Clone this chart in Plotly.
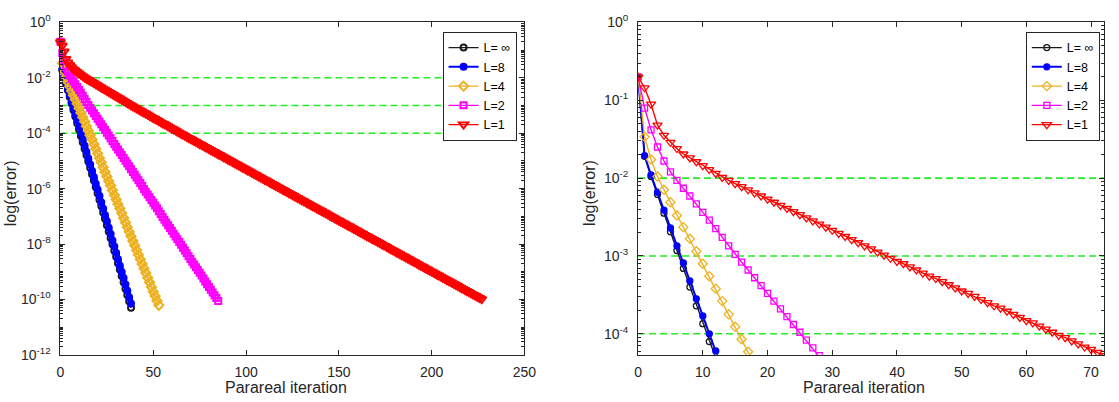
import plotly.graph_objects as go

# ---------------- data (log10 of the error) ----------------
series_names = ["L= \u221e", "L=8", "L=4", "L=2", "L=1"]

log_err_inf = [-0.70, -1.72, -1.98, -2.21, -2.45, -2.69, -2.93, -3.16, -3.40, -3.64,
               -3.87, -4.10, -4.33, -4.56, -4.79, -5.02, -5.25, -5.48, -5.71, -5.94,
               -6.17, -6.40, -6.63, -6.86, -7.09, -7.32, -7.55, -7.78, -8.01, -8.24,
               -8.46, -8.69, -8.92, -9.15, -9.38, -9.61, -9.84, -10.07, -10.30]

log_err_L8 = [-0.70, -1.71, -1.96, -2.18, -2.41, -2.64, -2.87, -3.09, -3.32, -3.55,
              -3.77, -4.00, -4.22, -4.45, -4.68, -4.91, -5.13, -5.36, -5.59, -5.82,
              -6.04, -6.27, -6.50, -6.73, -6.96, -7.18, -7.41, -7.64, -7.87, -8.09,
              -8.32, -8.55, -8.78, -9.01, -9.23, -9.46, -9.69, -9.92, -10.15]

log_err_L4 = [-0.70, -1.47, -1.76, -1.98, -2.15, -2.31, -2.48, -2.63, -2.78, -2.94,
              -3.10, -3.26, -3.42, -3.58, -3.75, -3.91, -4.07, -4.23, -4.40, -4.56,
              -4.73, -4.90, -5.06, -5.23, -5.40, -5.56, -5.73, -5.89, -6.06, -6.23,
              -6.39, -6.56, -6.72, -6.89, -7.06, -7.22, -7.39, -7.56, -7.72, -7.89,
              -8.05, -8.22, -8.39, -8.55, -8.72, -8.88, -9.05, -9.22, -9.38, -9.55,
              -9.72, -9.88, -10.05, -10.21]

log_err_L2 = [-0.70, -1.10, -1.38, -1.60, -1.78, -1.92, -2.03, -2.13, -2.23, -2.33,
              -2.44, -2.54, -2.65, -2.76, -2.87, -2.98, -3.08, -3.18, -3.28, -3.38,
              -3.48, -3.58, -3.68, -3.78, -3.88, -3.98, -4.08, -4.18, -4.28, -4.39,
              -4.49, -4.59, -4.69, -4.79, -4.89, -4.99, -5.09, -5.19, -5.30, -5.40,
              -5.50, -5.60, -5.70, -5.80, -5.90, -6.01, -6.11, -6.21, -6.31, -6.41,
              -6.51, -6.61, -6.71, -6.82, -6.92, -7.02, -7.12, -7.22, -7.32, -7.42,
              -7.52, -7.63, -7.73, -7.83, -7.93, -8.03, -8.13, -8.23, -8.33, -8.44,
              -8.54, -8.64, -8.74, -8.84, -8.94, -9.04, -9.14, -9.24, -9.35, -9.45,
              -9.55, -9.65, -9.75, -9.85, -9.95, -10.06]

log_err_L1 = [-0.70, -0.84, -1.05, -1.32, -1.45, -1.54, -1.62, -1.69, -1.74, -1.79,
              -1.84, -1.89, -1.94, -1.99, -2.03, -2.07, -2.11, -2.15, -2.19, -2.23,
              -2.27, -2.31, -2.35, -2.39, -2.43, -2.47, -2.51, -2.55, -2.59, -2.63,
              -2.67, -2.71, -2.75, -2.79, -2.83, -2.87, -2.91, -2.95, -2.99, -3.03,
              -3.07, -3.10, -3.14, -3.18, -3.22, -3.26, -3.29, -3.33, -3.37, -3.41,
              -3.45, -3.48, -3.52, -3.56, -3.60, -3.64, -3.67, -3.71, -3.75, -3.79,
              -3.83, -3.86, -3.90, -3.94, -3.98, -4.02, -4.05, -4.09, -4.13, -4.17,
              -4.20, -4.24, -4.28, -4.31, -4.35, -4.39, -4.42, -4.46, -4.50, -4.53,
              -4.57, -4.61, -4.65, -4.68, -4.72, -4.76, -4.79, -4.83, -4.87, -4.90,
              -4.94, -4.98, -5.01, -5.05, -5.09, -5.12, -5.16, -5.20, -5.24, -5.27,
              -5.31, -5.35, -5.38, -5.42, -5.46, -5.49, -5.53, -5.57, -5.60, -5.64,
              -5.68, -5.71, -5.75, -5.79, -5.83, -5.86, -5.90, -5.94, -5.97, -6.01,
              -6.05, -6.08, -6.12, -6.16, -6.19, -6.23, -6.27, -6.31, -6.34, -6.38,
              -6.42, -6.45, -6.49, -6.53, -6.56, -6.60, -6.64, -6.67, -6.71, -6.75,
              -6.78, -6.82, -6.86, -6.89, -6.93, -6.97, -7.01, -7.04, -7.08, -7.12,
              -7.15, -7.19, -7.23, -7.26, -7.30, -7.34, -7.37, -7.41, -7.45, -7.48,
              -7.52, -7.56, -7.60, -7.63, -7.67, -7.71, -7.74, -7.78, -7.82, -7.85,
              -7.89, -7.93, -7.96, -8.00, -8.04, -8.07, -8.11, -8.15, -8.19, -8.22,
              -8.26, -8.30, -8.33, -8.37, -8.41, -8.44, -8.48, -8.52, -8.55, -8.59,
              -8.63, -8.66, -8.70, -8.74, -8.78, -8.81, -8.85, -8.89, -8.92, -8.96,
              -9.00, -9.03, -9.07, -9.11, -9.14, -9.18, -9.22, -9.25, -9.29, -9.33,
              -9.36, -9.40, -9.44, -9.47, -9.51, -9.55, -9.59, -9.62, -9.66, -9.70,
              -9.73, -9.77, -9.81, -9.84, -9.88, -9.92, -9.95, -9.99]

threshold_levels = [1e-2, 1e-3, 1e-4]
threshold_x = [0, 225]

left_xticks = [0, 50, 100, 150, 200, 250]
right_xticks = [0, 10, 20, 30, 40, 50, 60, 70]
left_yexp = [0, -2, -4, -6, -8, -10, -12]
right_yexp = [0, -1, -2, -3, -4]

# ---------------- styles ----------------
FONT = "Liberation Sans, Arial, Helvetica, sans-serif"
AX = "#262626"
styles = [
    dict(color="#1a1a1a", symbol="circle-open", size=6, lw=1.4),
    dict(color="#0000FF", symbol="circle", size=6, lw=2.0),
    dict(color="#EDB120", symbol="diamond-open", size=7, lw=1.4),
    dict(color="#FF00FF", symbol="square-open", size=6, lw=1.4),
    dict(color="#FF0000", symbol="triangle-down-open", size=8, lw=1.4),
]
all_series = [log_err_inf, log_err_L8, log_err_L4, log_err_L2, log_err_L1]

fig = go.Figure()

# (x axis, y axis, legend, clip markers, marker outline width)
panels = [("x", "y", "legend", False, 2.0), ("x2", "y2", "legend2", True, 1.3)]
for xa, ya, leg, clip, mlw in panels:
    for lv in threshold_levels:
        fig.add_trace(go.Scatter(
            x=threshold_x, y=[lv, lv], mode="lines",
            line=dict(color="#22EE22", width=1.6, dash="7px,4px"),
            xaxis=xa, yaxis=ya, showlegend=False, hoverinfo="skip"))
    for name, vals, st in zip(series_names, all_series, styles):
        fig.add_trace(go.Scatter(
            x=list(range(len(vals))), y=[10 ** v for v in vals],
            mode="lines+markers", name=name,
            line=dict(color=st["color"], width=st["lw"]),
            marker=dict(symbol=st["symbol"], size=st["size"], color=st["color"],
                        line=dict(color=st["color"], width=mlw)),
            cliponaxis=clip, xaxis=xa, yaxis=ya, legend=leg))

common = dict(showline=True, linecolor=AX, linewidth=1, mirror="ticks",
              ticks="inside", ticklen=5, tickwidth=1, tickcolor=AX,
              showgrid=False, zeroline=False,
              tickfont=dict(family=FONT, size=14, color=AX))

ydom = [41 / 402, 389 / 402]

def sup(e):
    return "10<sup>%d</sup>" % e

left_minor = [m * 10.0 ** e for e in range(-12, 0) for m in range(1, 10)
              if not (m == 1 and e % 2 == 0)]
right_minor = [m * 10.0 ** e for e in range(-5, 0) for m in range(2, 10)]

fig.update_layout(
    width=1119, height=402, autosize=False,
    margin=dict(l=0, r=0, t=0, b=0),
    paper_bgcolor="white", plot_bgcolor="white",
    xaxis=dict(domain=[57.3 / 1119, 528 / 1119], range=[0, 250],
               tickvals=left_xticks, ticklabelstandoff=4, anchor="y", **common),
    yaxis=dict(domain=ydom, type="log", range=[-12, 0],
               tickvals=[10.0 ** e for e in left_yexp],
               ticktext=[sup(e) for e in left_yexp], ticklabelstandoff=6,
               minor=dict(tickmode="array", tickvals=left_minor, ticks="inside",
                          ticklen=3, tickcolor=AX),
               anchor="x", **common),
    xaxis2=dict(domain=[643.3 / 1119, 1116 / 1119], range=[0, 72],
                tickvals=right_xticks, ticklabelstandoff=4, anchor="y2", **common),
    yaxis2=dict(domain=ydom, type="log", range=[-4.27, 0],
                tickvals=[10.0 ** e for e in right_yexp],
                ticktext=[sup(e) for e in right_yexp], ticklabelstandoff=6,
                minor=dict(tickmode="array", tickvals=right_minor, ticks="inside",
                           ticklen=3, tickcolor=AX),
                anchor="x2", **common),
    legend=dict(x=520 / 1119, y=(402 - 23) / 402, xanchor="right", yanchor="top",
                bgcolor="white", bordercolor=AX, borderwidth=1, itemwidth=30,
                font=dict(family=FONT, size=12.5, color="black"), tracegroupgap=0),
    legend2=dict(x=1111.7 / 1119, y=(402 - 23) / 402, xanchor="right", yanchor="top",
                 bgcolor="white", bordercolor=AX, borderwidth=1, itemwidth=30,
                 font=dict(family=FONT, size=12.5, color="black"), tracegroupgap=0),
    showlegend=True,
)

label_font = dict(family=FONT, size=16, color=AX)
annotations = [
    dict(text="Parareal iteration", x=286 / 1119, y=(402 - 395) / 402,
         xref="paper", yref="paper", xanchor="center", yanchor="middle",
         showarrow=False, font=label_font),
    dict(text="Parareal iteration", x=872 / 1119, y=(402 - 395) / 402,
         xref="paper", yref="paper", xanchor="center", yanchor="middle",
         showarrow=False, font=label_font),
    dict(text="log(error)", x=7 / 1119, y=(402 - 192) / 402, textangle=-90,
         xref="paper", yref="paper", xanchor="center", yanchor="middle",
         showarrow=False, font=label_font),
    dict(text="log(error)", x=594 / 1119, y=(402 - 192) / 402, textangle=-90,
         xref="paper", yref="paper", xanchor="center", yanchor="middle",
         showarrow=False, font=label_font),
]
fig.update_layout(annotations=annotations)

fig.write_html("out.html")
